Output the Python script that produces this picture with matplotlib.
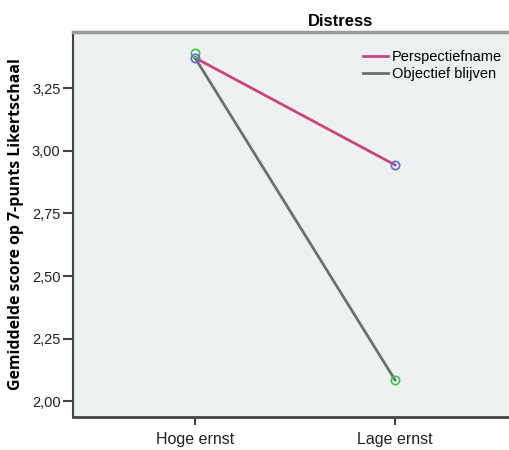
import matplotlib
matplotlib.use("Agg")
import matplotlib.pyplot as plt
import matplotlib.transforms as mtransforms
from matplotlib.ticker import FixedLocator, NullLocator

# values (means on a 7-point scale)
conditions = ["Hoge ernst", "Lage ernst"]
perspectief = [3.372, 2.944]
objectief = [3.372, 2.085]
# circle markers as SPSS drew them
blue_pts = [3.372, 2.944]
green_pts = [3.391, 2.085]
yticks = [2.00, 2.25, 2.50, 2.75, 3.00, 3.25]

plt.rcParams['font.family'] = ['Liberation Sans', 'DejaVu Sans']

W, H = 510, 450
fig = plt.figure(figsize=(W / 100, H / 100), dpi=100)
# plot area runs on past the right edge of the picture, as in the reference
ax = fig.add_axes([73 / W, (H - 417) / H, (530 - 73) / W, (417 - 32) / H])
ax.set_facecolor('#eef1f2')

x = list(range(len(conditions)))
ax.plot(x, perspectief, color='#c9457f', lw=2, label='Perspectiefname')
ax.plot(x, objectief, color='#6e6e6e', lw=2, label='Objectief blijven')
ax.plot(x, green_pts, 'o', ms=6, mfc='none', mec='#3fc44a', mew=1.2)
ax.plot(x, blue_pts, 'o', ms=6, mfc='none', mec='#5b6ed0', mew=1.2)

ax.set_xlim(-0.61, 1 + (530 - 395) / 200)
ax.set_ylim(1.937, 3.475)
ax.xaxis.set_major_locator(FixedLocator(x))
ax.xaxis.set_minor_locator(NullLocator())
ax.yaxis.set_minor_locator(NullLocator())
ax.set_xticklabels(conditions, fontsize=11.5, color='#222222')
ax.set_yticks(yticks)
ax.set_yticklabels([f"{v:.2f}".replace('.', ',') for v in yticks], fontsize=10.5, color='#222222')
ax.tick_params(axis='y', length=7, width=1.5, color='#444444', direction='out', pad=2)
# x tick marks drawn by hand below, the labels keep their place
ax.tick_params(axis='x', length=0, pad=11)
ax.tick_params(top=False, right=False)
trans = mtransforms.blended_transform_factory(ax.transData, ax.transAxes)
ax.vlines(x, -8 / 385, 0, transform=trans, color='#444444', lw=1.5, clip_on=False)

ax.spines['right'].set_visible(False)
ax.spines['top'].set_color('#9a9a9a')
ax.spines['top'].set_linewidth(2.5)
ax.spines['left'].set_color('#444444')
ax.spines['left'].set_linewidth(1.5)
ax.spines['bottom'].set_color('#444444')
ax.spines['bottom'].set_linewidth(2)

ax.set_ylabel('Gemiddelde score op 7-punts Likertschaal', fontsize=11.4, fontweight='bold',
              family=['Open Sans', 'DejaVu Sans'], labelpad=6)

fig.text(341 / W, 1 - 21 / H, 'Distress', ha='center', va='center', fontsize=12, fontweight='bold')

leg = ax.legend(loc='upper left', bbox_to_anchor=(363 / W, 1 - 50 / H), bbox_transform=fig.transFigure,
                frameon=False, fontsize=10.5, handlelength=1.7, handletextpad=0.3,
                labelspacing=0.2, borderpad=0, borderaxespad=0)

fig.savefig('out.png', dpi=100)
